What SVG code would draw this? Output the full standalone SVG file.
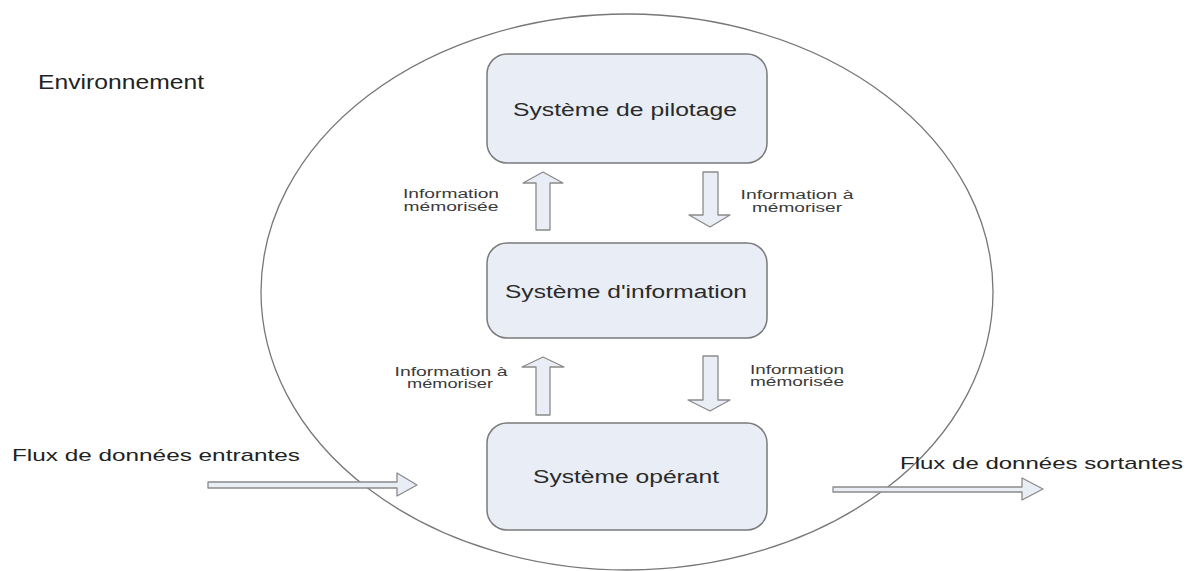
<svg xmlns="http://www.w3.org/2000/svg" width="1189" height="571" viewBox="0 0 1189 571">
  <style>
    .node rect { fill: #e9edf5; stroke: #7a7a7a; stroke-width: 1.5; }
    .node text { font-family: "Liberation Sans", Arial, sans-serif; font-size: 18px; fill: #2a2a2a; text-anchor: middle; dominant-baseline: central; }
    .flow { fill: #e9edf5; stroke: #8a8a8a; stroke-width: 1.3; stroke-linejoin: round; }
    .lbl { font-family: "Liberation Sans", Arial, sans-serif; font-size: 12px; fill: #3a3a3a; text-anchor: middle; }
    .big { font-family: "Liberation Sans", Arial, sans-serif; fill: #222; }
  </style>

  <rect width="1189" height="571" fill="#ffffff"/>

  <!-- system boundary -->
  <g id="environment">
    <ellipse cx="627" cy="292" rx="366" ry="278" fill="none" stroke="#777" stroke-width="1.3"/>
    <text class="big" x="38" y="89" font-size="21" textLength="166" lengthAdjust="spacingAndGlyphs">Environnement</text>
  </g>

  <g id="pilotage" class="node">
    <rect x="487" y="54" width="280" height="109" rx="20"/>
    <text x="625" y="110" textLength="224" lengthAdjust="spacingAndGlyphs">Système de pilotage</text>
  </g>

  <g id="information" class="node">
    <rect x="487" y="243" width="280" height="95" rx="20"/>
    <text x="626" y="292" textLength="242" lengthAdjust="spacingAndGlyphs">Système d'information</text>
  </g>

  <g id="operant" class="node">
    <rect x="487" y="423" width="280" height="107" rx="20"/>
    <text x="626" y="477" textLength="186" lengthAdjust="spacingAndGlyphs">Système opérant</text>
  </g>

  <g id="connectors">
    <!-- SI -> pilotage -->
    <path class="flow" d="M536,230 V183 H523 L543,172 L563,183 H550 V230 Z"/>
    <!-- pilotage -> SI -->
    <path class="flow" d="M703,172 H718 V215 H730 L710,227 L689,215 H703 Z"/>
    <!-- operant -> SI -->
    <path class="flow" d="M536,415 V367 H522 L543,357 L564,367 H550 V415 Z"/>
    <!-- SI -> operant -->
    <path class="flow" d="M703,356 H718 V400 H730 L710,411 L688,400 H703 Z"/>
    <!-- incoming flow -->
    <path class="flow" d="M208,482 H397 V473 L417,485 L397,496 V488 H208 Z"/>
    <!-- outgoing flow -->
    <path class="flow" d="M833,487 H1022 V478 L1043,489 L1022,500 V492 H833 Z"/>
  </g>

  <g id="labels">
    <text class="lbl" x="451" y="198" textLength="96" lengthAdjust="spacingAndGlyphs">Information</text>
    <text class="lbl" x="451" y="211" textLength="95" lengthAdjust="spacingAndGlyphs">mémorisée</text>
    <text class="lbl" x="797" y="199" textLength="113" lengthAdjust="spacingAndGlyphs">Information à</text>
    <text class="lbl" x="797" y="212" textLength="90" lengthAdjust="spacingAndGlyphs">mémoriser</text>
    <text class="lbl" x="451" y="376" textLength="113" lengthAdjust="spacingAndGlyphs">Information à</text>
    <text class="lbl" x="450" y="388" textLength="86" lengthAdjust="spacingAndGlyphs">mémoriser</text>
    <text class="lbl" x="797" y="374" textLength="94" lengthAdjust="spacingAndGlyphs">Information</text>
    <text class="lbl" x="797" y="386" textLength="94" lengthAdjust="spacingAndGlyphs">mémorisée</text>
    <text class="big" x="12" y="461" font-size="17" textLength="288" lengthAdjust="spacingAndGlyphs">Flux de données entrantes</text>
    <text class="big" x="900" y="469" font-size="17" textLength="283" lengthAdjust="spacingAndGlyphs">Flux de données sortantes</text>
  </g>
</svg>
